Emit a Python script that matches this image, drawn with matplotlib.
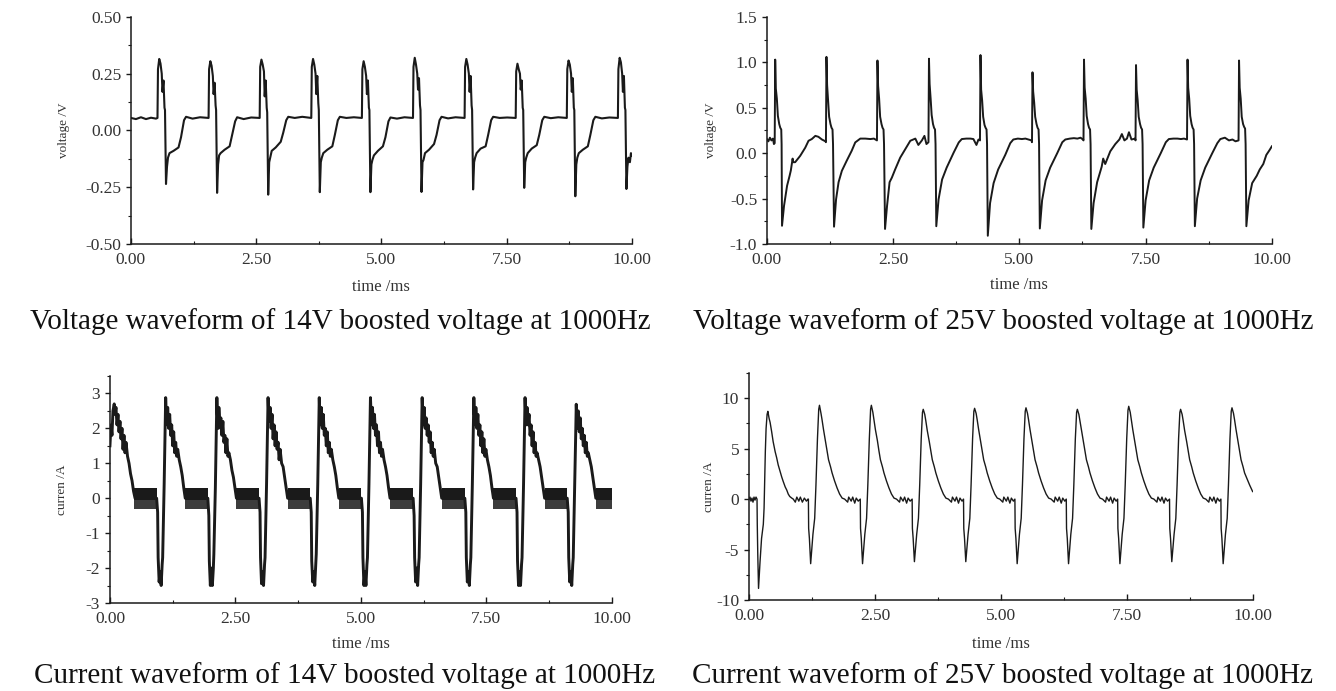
"""Four oscilloscope-style waveforms (14V / 25V boost, 1000Hz)."""

import matplotlib

matplotlib.use("Agg")
import matplotlib.pyplot as plt
from matplotlib.ticker import FormatStrFormatter, MultipleLocator

plt.rcParams["font.family"] = ["Liberation Serif", "DejaVu Serif"]

# ---------------------------------------------------------------------------
# data, one list per cycle
# ---------------------------------------------------------------------------

# voltage, 14V boost
v14_t = [
    [0.0, 0.1, 0.2, 0.3, 0.4, 0.5],
    [0.53, 0.54, 0.565, 0.59, 0.615, 0.63, 0.65, 0.67, 0.68, 0.70, 0.72, 0.74, 0.77, 0.85, 0.95, 1.00, 1.06, 1.10, 1.23, 1.38],
    [1.55, 1.56, 1.585, 1.61, 1.635, 1.65, 1.67, 1.69, 1.70, 1.72, 1.74, 1.76, 1.79, 1.87, 1.97, 2.02, 2.08, 2.12, 2.25, 2.40],
    [2.57, 2.58, 2.605, 2.63, 2.655, 2.67, 2.69, 2.71, 2.72, 2.74, 2.76, 2.78, 2.81, 2.89, 2.99, 3.04, 3.10, 3.14, 3.27, 3.42],
    [3.60, 3.61, 3.635, 3.66, 3.685, 3.70, 3.72, 3.74, 3.75, 3.77, 3.79, 3.81, 3.84, 3.92, 4.02, 4.07, 4.13, 4.17, 4.30, 4.45],
    [4.61, 4.62, 4.645, 4.67, 4.695, 4.71, 4.73, 4.75, 4.76, 4.78, 4.80, 4.82, 4.85, 4.93, 5.03, 5.08, 5.14, 5.18, 5.31, 5.46],
    [5.63, 5.64, 5.665, 5.69, 5.715, 5.73, 5.75, 5.77, 5.78, 5.80, 5.82, 5.84, 5.87, 5.95, 6.05, 6.10, 6.16, 6.20, 6.33, 6.48],
    [6.66, 6.67, 6.695, 6.72, 6.745, 6.76, 6.78, 6.80, 6.81, 6.83, 6.85, 6.87, 6.90, 6.98, 7.08, 7.13, 7.19, 7.23, 7.36, 7.51],
    [7.68, 7.69, 7.715, 7.74, 7.765, 7.78, 7.80, 7.82, 7.83, 7.85, 7.87, 7.89, 7.92, 8.00, 8.10, 8.15, 8.21, 8.25, 8.38, 8.53],
    [8.70, 8.71, 8.735, 8.76, 8.785, 8.80, 8.82, 8.84, 8.85, 8.87, 8.89, 8.91, 8.94, 9.02, 9.12, 9.17, 9.23, 9.27, 9.40, 9.55],
    [9.72, 9.73, 9.755, 9.78, 9.805, 9.82, 9.84, 9.86, 9.87, 9.89, 9.91, 9.93, 9.96, 9.98, 10.0],
]
v14_v = [
    [0.055, 0.05, 0.058, 0.05, 0.056, 0.052],
    [0.055, 0.27, 0.315, 0.295, 0.25, 0.17, 0.22, 0.10, 0.09, -0.236, -0.16, -0.12, -0.10, -0.09, -0.075, -0.03, 0.045, 0.06, 0.052, 0.058],
    [0.055, 0.27, 0.305, 0.285, 0.24, 0.16, 0.21, 0.11, 0.09, -0.275, -0.15, -0.11, -0.10, -0.085, -0.07, -0.02, 0.04, 0.058, 0.05, 0.057],
    [0.055, 0.28, 0.312, 0.29, 0.26, 0.15, 0.22, 0.10, 0.08, -0.283, -0.14, -0.12, -0.09, -0.075, -0.05, -0.01, 0.045, 0.06, 0.055, 0.06],
    [0.055, 0.28, 0.315, 0.29, 0.25, 0.16, 0.24, 0.12, 0.09, -0.272, -0.14, -0.12, -0.10, -0.085, -0.07, -0.02, 0.045, 0.06, 0.055, 0.058],
    [0.055, 0.27, 0.305, 0.28, 0.24, 0.16, 0.22, 0.10, 0.09, -0.272, -0.15, -0.13, -0.11, -0.09, -0.07, -0.03, 0.04, 0.057, 0.052, 0.058],
    [0.055, 0.28, 0.32, 0.29, 0.25, 0.18, 0.23, 0.11, 0.09, -0.271, -0.14, -0.13, -0.10, -0.085, -0.06, -0.02, 0.045, 0.06, 0.053, 0.058],
    [0.055, 0.28, 0.315, 0.29, 0.25, 0.17, 0.24, 0.11, 0.09, -0.26, -0.14, -0.12, -0.10, -0.08, -0.07, -0.02, 0.045, 0.06, 0.055, 0.057],
    [0.055, 0.26, 0.294, 0.27, 0.25, 0.18, 0.22, 0.10, 0.09, -0.253, -0.14, -0.12, -0.10, -0.08, -0.065, -0.02, 0.045, 0.06, 0.054, 0.058],
    [0.055, 0.27, 0.308, 0.29, 0.25, 0.17, 0.23, 0.10, 0.09, -0.29, -0.15, -0.12, -0.10, -0.085, -0.07, -0.02, 0.045, 0.06, 0.053, 0.057],
    [0.055, 0.27, 0.32, 0.30, 0.25, 0.17, 0.24, 0.10, 0.09, -0.258, -0.16, -0.12, -0.14, -0.10, -0.11],
]

# voltage, 25V boost
v25_t = [
    [0.0, 0.03, 0.06, 0.09, 0.12, 0.14, 0.155],
    [0.165, 0.178, 0.198, 0.218, 0.245, 0.265, 0.285, 0.292, 0.30, 0.34, 0.40, 0.45, 0.475, 0.51, 0.52, 0.56, 0.66, 0.76, 0.825, 0.89, 0.96, 1.02, 1.09, 1.16, 1.17],
    [1.18, 1.193, 1.213, 1.233, 1.26, 1.28, 1.30, 1.31, 1.33, 1.37, 1.42, 1.485, 1.58, 1.68, 1.75, 1.85, 1.95, 2.05, 2.12, 2.18],
    [2.19, 2.203, 2.223, 2.243, 2.27, 2.29, 2.31, 2.32, 2.34, 2.38, 2.43, 2.475, 2.54, 2.64, 2.74, 2.84, 2.94, 3.00, 3.07, 3.12, 3.16, 3.20],
    [3.21, 3.223, 3.243, 3.263, 3.29, 3.31, 3.33, 3.34, 3.355, 3.40, 3.47, 3.56, 3.70, 3.80, 3.86, 3.95, 4.03, 4.09, 4.15, 4.19, 4.22],
    [4.23, 4.243, 4.263, 4.283, 4.31, 4.33, 4.35, 4.36, 4.375, 4.42, 4.49, 4.58, 4.72, 4.82, 4.88, 4.97, 5.05, 5.12, 5.18, 5.24, 5.25],
    [5.26, 5.273, 5.293, 5.313, 5.34, 5.36, 5.38, 5.39, 5.405, 5.45, 5.52, 5.61, 5.75, 5.85, 5.91, 6.00, 6.08, 6.15, 6.21, 6.26, 6.27],
    [6.28, 6.293, 6.313, 6.333, 6.36, 6.38, 6.40, 6.41, 6.425, 6.47, 6.54, 6.63, 6.66, 6.70, 6.80, 6.90, 6.98, 7.03, 7.08, 7.13, 7.17, 7.22, 7.29, 7.30],
    [7.31, 7.323, 7.343, 7.363, 7.39, 7.41, 7.43, 7.44, 7.455, 7.50, 7.57, 7.66, 7.80, 7.90, 7.96, 8.05, 8.13, 8.20, 8.26, 8.32],
    [8.33, 8.343, 8.363, 8.383, 8.41, 8.43, 8.45, 8.46, 8.475, 8.52, 8.59, 8.68, 8.82, 8.92, 8.98, 9.07, 9.15, 9.22, 9.28, 9.34],
    [9.35, 9.363, 9.383, 9.403, 9.43, 9.45, 9.47, 9.48, 9.495, 9.54, 9.61, 9.70, 9.76, 9.83, 9.89, 9.95, 10.0],
]
v25_v = [
    [0.155, 0.13, 0.17, 0.14, 0.16, 0.10, 0.11],
    [1.03, 0.71, 0.60, 0.41, 0.32, 0.28, 0.26, 0.10, -0.80, -0.58, -0.36, -0.25, -0.19, -0.06, -0.10, -0.10, -0.03, 0.06, 0.136, 0.155, 0.19, 0.18, 0.15, 0.13, 0.12],
    [1.06, 0.75, 0.58, 0.40, 0.32, 0.28, 0.26, 0.10, -0.81, -0.51, -0.32, -0.195, -0.085, 0.026, 0.118, 0.16, 0.16, 0.155, 0.16, 0.14],
    [1.02, 0.74, 0.60, 0.40, 0.32, 0.28, 0.26, 0.10, -0.835, -0.58, -0.32, -0.27, -0.18, -0.05, 0.044, 0.136, 0.16, 0.09, 0.14, 0.19, 0.10, 0.12],
    [1.04, 0.76, 0.60, 0.42, 0.32, 0.28, 0.26, 0.10, -0.805, -0.51, -0.29, -0.16, 0.007, 0.118, 0.155, 0.16, 0.16, 0.155, 0.09, 0.15, 0.14],
    [1.08, 0.70, 0.58, 0.40, 0.31, 0.28, 0.26, 0.10, -0.91, -0.55, -0.33, -0.18, -0.02, 0.11, 0.15, 0.16, 0.155, 0.16, 0.15, 0.14, 0.12],
    [0.89, 0.68, 0.56, 0.40, 0.32, 0.28, 0.26, 0.10, -0.83, -0.52, -0.30, -0.16, 0.00, 0.12, 0.15, 0.16, 0.165, 0.16, 0.17, 0.15, 0.14],
    [1.03, 0.72, 0.60, 0.41, 0.32, 0.28, 0.26, 0.10, -0.835, -0.55, -0.32, -0.15, -0.06, -0.12, 0.02, 0.10, 0.15, 0.21, 0.14, 0.16, 0.23, 0.15, 0.16, 0.14],
    [0.97, 0.70, 0.58, 0.40, 0.32, 0.28, 0.26, 0.10, -0.82, -0.52, -0.30, -0.16, 0.00, 0.12, 0.155, 0.16, 0.16, 0.155, 0.16, 0.15],
    [1.03, 0.72, 0.60, 0.41, 0.32, 0.28, 0.26, 0.10, -0.805, -0.50, -0.30, -0.16, 0.00, 0.11, 0.155, 0.17, 0.14, 0.15, 0.13, 0.14],
    [1.02, 0.72, 0.60, 0.40, 0.32, 0.29, 0.27, 0.10, -0.805, -0.52, -0.33, -0.25, -0.18, -0.12, -0.02, 0.03, 0.075],
]

# current, 14V boost (main trace)
i14_t = [
    [0.00, 0.02, 0.04, 0.06, 0.085, 0.10, 0.12, 0.14, 0.16, 0.18, 0.20, 0.22, 0.24, 0.26, 0.28, 0.30, 0.32, 0.35, 0.38, 0.41, 0.44, 0.47, 0.50],
    [0.93, 0.95, 0.96, 0.98, 1.00, 1.02, 1.04, 1.05, 1.08, 1.10, 1.11, 1.12, 1.14, 1.15, 1.17, 1.19, 1.21, 1.23, 1.25, 1.27, 1.29, 1.31, 1.33, 1.35, 1.38, 1.41, 1.44, 1.47, 1.50],
    [1.95, 1.97, 1.98, 2.00, 2.02, 2.04, 2.06, 2.07, 2.10, 2.12, 2.13, 2.14, 2.16, 2.17, 2.19, 2.21, 2.23, 2.25, 2.27, 2.29, 2.31, 2.33, 2.35, 2.37, 2.40, 2.43, 2.46, 2.49, 2.52],
    [2.97, 2.99, 3.00, 3.02, 3.04, 3.06, 3.08, 3.09, 3.12, 3.14, 3.15, 3.16, 3.18, 3.19, 3.21, 3.23, 3.25, 3.27, 3.29, 3.31, 3.33, 3.35, 3.37, 3.39, 3.42, 3.45, 3.48, 3.51, 3.54],
    [3.99, 4.01, 4.02, 4.04, 4.06, 4.08, 4.10, 4.11, 4.14, 4.16, 4.17, 4.18, 4.20, 4.21, 4.23, 4.25, 4.27, 4.29, 4.31, 4.33, 4.35, 4.37, 4.39, 4.41, 4.44, 4.47, 4.50, 4.53, 4.56],
    [5.01, 5.03, 5.04, 5.06, 5.08, 5.10, 5.12, 5.13, 5.16, 5.18, 5.19, 5.20, 5.22, 5.23, 5.25, 5.27, 5.29, 5.31, 5.33, 5.35, 5.37, 5.39, 5.41, 5.43, 5.46, 5.49, 5.52, 5.55, 5.58],
    [6.04, 6.06, 6.07, 6.09, 6.11, 6.13, 6.15, 6.16, 6.19, 6.21, 6.22, 6.23, 6.25, 6.26, 6.28, 6.30, 6.32, 6.34, 6.36, 6.38, 6.40, 6.42, 6.44, 6.46, 6.49, 6.52, 6.55, 6.58, 6.61],
    [7.07, 7.09, 7.10, 7.12, 7.14, 7.16, 7.18, 7.19, 7.22, 7.24, 7.25, 7.26, 7.28, 7.29, 7.31, 7.33, 7.35, 7.37, 7.39, 7.41, 7.43, 7.45, 7.47, 7.49, 7.52, 7.55, 7.58, 7.61, 7.64],
    [8.09, 8.11, 8.12, 8.14, 8.16, 8.18, 8.20, 8.21, 8.24, 8.26, 8.27, 8.28, 8.30, 8.31, 8.33, 8.35, 8.37, 8.39, 8.41, 8.43, 8.45, 8.47, 8.49, 8.51, 8.54, 8.57, 8.60, 8.63, 8.66],
    [9.11, 9.13, 9.14, 9.16, 9.18, 9.20, 9.22, 9.23, 9.26, 9.28, 9.29, 9.30, 9.32, 9.33, 9.35, 9.37, 9.39, 9.41, 9.43, 9.45, 9.47, 9.49, 9.51, 9.53, 9.56, 9.59, 9.62, 9.65, 9.68, 10.0],
]
i14_v = [
    [1.5, 2.1, 1.8, 2.5, 2.7, 2.4, 2.6, 2.1, 2.4, 1.9, 2.2, 1.7, 2.0, 1.4, 1.8, 1.3, 1.6, 1.2, 1.0, 0.7, 0.5, 0.2, 0.0],
    [0.0, -0.4, -1.7, -2.4, -2.1, -2.5, -1.9, -1.7, 0.4, 2.0, 2.88, 2.5, 2.1, 2.6, 2.0, 2.4, 1.8, 2.1, 1.5, 1.9, 1.3, 1.6, 1.2, 1.4, 1.1, 0.9, 0.65, 0.3, 0.0],
    [0.0, -0.5, -1.8, -2.5, -2.0, -2.5, -2.0, -1.6, 0.3, 2.1, 2.88, 2.4, 2.0, 2.6, 2.1, 2.3, 1.8, 2.2, 1.6, 1.8, 1.3, 1.7, 1.2, 1.3, 1.1, 0.8, 0.6, 0.3, 0.0],
    [0.0, -0.4, -1.7, -2.45, -2.1, -2.5, -1.9, -1.7, 0.4, 2.0, 2.88, 2.5, 2.2, 2.6, 2.0, 2.4, 1.7, 2.1, 1.5, 1.9, 1.4, 1.6, 1.1, 1.4, 1.0, 0.9, 0.6, 0.3, 0.0],
    [0.0, -0.4, -1.8, -2.4, -2.1, -2.5, -1.9, -1.6, 0.4, 2.0, 2.88, 2.4, 2.1, 2.6, 2.0, 2.4, 1.8, 2.0, 1.5, 1.9, 1.3, 1.6, 1.2, 1.4, 1.1, 0.9, 0.65, 0.3, 0.0],
    [0.0, -0.4, -1.7, -2.5, -2.1, -2.5, -1.9, -1.7, 0.4, 2.0, 2.88, 2.5, 2.1, 2.6, 2.0, 2.4, 1.8, 2.1, 1.5, 1.9, 1.3, 1.6, 1.2, 1.4, 1.1, 0.9, 0.65, 0.3, 0.0],
    [0.0, -0.5, -1.7, -2.4, -2.0, -2.5, -1.9, -1.7, 0.4, 2.1, 2.88, 2.5, 2.1, 2.6, 2.0, 2.3, 1.8, 2.1, 1.6, 1.9, 1.3, 1.6, 1.2, 1.4, 1.0, 0.9, 0.6, 0.3, 0.0],
    [0.0, -0.4, -1.7, -2.4, -2.1, -2.5, -1.9, -1.7, 0.4, 2.0, 2.88, 2.4, 2.1, 2.6, 2.0, 2.4, 1.8, 2.1, 1.5, 1.9, 1.3, 1.7, 1.2, 1.4, 1.1, 0.9, 0.65, 0.3, 0.0],
    [0.0, -0.4, -1.8, -2.5, -2.1, -2.5, -1.9, -1.7, 0.4, 2.0, 2.88, 2.5, 2.1, 2.6, 2.1, 2.4, 1.8, 2.1, 1.5, 1.9, 1.3, 1.6, 1.2, 1.3, 1.1, 0.9, 0.6, 0.3, 0.0],
    [0.0, -0.4, -1.7, -2.4, -2.1, -2.5, -1.9, -1.7, 0.4, 1.9, 2.69, 2.3, 2.0, 2.5, 1.9, 2.3, 1.7, 2.0, 1.5, 1.8, 1.3, 1.6, 1.2, 1.3, 1.1, 0.9, 0.6, 0.3, 0.0, 0.0],
]
# current, 14V boost: dense noise band around zero between the pulses
i14_band_start = [0.485, 1.50, 2.52, 3.54, 4.56, 5.58, 6.61, 7.64, 8.66, 9.68]
i14_band_end = [0.93, 1.95, 2.97, 3.99, 5.01, 6.04, 7.07, 8.09, 9.11, 10.0]
i14_band_low = -0.3
i14_band_mid = -0.05
i14_band_high = 0.3

# current, 25V boost
i25_t = [
    [0.0, 0.02, 0.04, 0.06, 0.08, 0.10, 0.12, 0.14, 0.16, 0.165, 0.175, 0.19, 0.22, 0.25, 0.285, 0.30, 0.325, 0.34, 0.36, 0.375, 0.40, 0.42,
     0.45, 0.48, 0.52, 0.55, 0.58, 0.62, 0.65, 0.68, 0.72, 0.75, 0.78, 0.81, 0.85, 0.88, 0.92, 0.95, 0.99, 1.02, 1.06, 1.10, 1.14, 1.17],
    [1.18, 1.185, 1.20, 1.225, 1.27, 1.305, 1.33, 1.36, 1.385, 1.40, 1.43, 1.45, 1.48, 1.52, 1.55, 1.58, 1.62, 1.65, 1.70, 1.75, 1.80, 1.85, 1.90, 1.96, 1.98, 2.03, 2.06, 2.10, 2.13, 2.17],
    [2.21, 2.215, 2.23, 2.255, 2.30, 2.335, 2.36, 2.39, 2.415, 2.43, 2.46, 2.48, 2.51, 2.55, 2.58, 2.61, 2.65, 2.68, 2.73, 2.78, 2.83, 2.88, 2.93, 2.99, 3.01, 3.06, 3.09, 3.13, 3.16, 3.20],
    [3.24, 3.245, 3.26, 3.285, 3.33, 3.365, 3.39, 3.42, 3.445, 3.46, 3.49, 3.51, 3.54, 3.58, 3.61, 3.64, 3.68, 3.71, 3.76, 3.81, 3.86, 3.91, 3.96, 4.02, 4.04, 4.09, 4.12, 4.16, 4.19, 4.23],
    [4.26, 4.265, 4.28, 4.305, 4.35, 4.385, 4.41, 4.44, 4.465, 4.48, 4.51, 4.53, 4.56, 4.60, 4.63, 4.66, 4.70, 4.73, 4.78, 4.83, 4.88, 4.93, 4.98, 5.04, 5.06, 5.11, 5.14, 5.18, 5.21, 5.25],
    [5.28, 5.285, 5.30, 5.325, 5.37, 5.405, 5.43, 5.46, 5.485, 5.50, 5.53, 5.55, 5.58, 5.62, 5.65, 5.68, 5.72, 5.75, 5.80, 5.85, 5.90, 5.95, 6.00, 6.06, 6.08, 6.13, 6.16, 6.20, 6.23, 6.27],
    [6.30, 6.305, 6.32, 6.345, 6.39, 6.425, 6.45, 6.48, 6.505, 6.52, 6.55, 6.57, 6.60, 6.64, 6.67, 6.70, 6.74, 6.77, 6.82, 6.87, 6.92, 6.97, 7.02, 7.08, 7.10, 7.15, 7.18, 7.22, 7.25, 7.29],
    [7.32, 7.325, 7.34, 7.365, 7.41, 7.445, 7.47, 7.50, 7.525, 7.54, 7.57, 7.59, 7.62, 7.66, 7.69, 7.72, 7.76, 7.79, 7.84, 7.89, 7.94, 7.99, 8.04, 8.10, 8.12, 8.17, 8.20, 8.24, 8.27, 8.31],
    [8.35, 8.355, 8.37, 8.395, 8.44, 8.475, 8.50, 8.53, 8.555, 8.57, 8.60, 8.62, 8.65, 8.69, 8.72, 8.75, 8.79, 8.82, 8.87, 8.92, 8.97, 9.02, 9.07, 9.13, 9.15, 9.20, 9.23, 9.27, 9.30, 9.34],
    [9.37, 9.375, 9.39, 9.415, 9.46, 9.495, 9.52, 9.55, 9.575, 9.59, 9.62, 9.64, 9.67, 9.71, 9.74, 9.77, 9.81, 9.84, 9.89, 9.94, 10.0],
]
i25_v = [
    [0.0, 0.2, -0.2, 0.1, -0.3, 0.2, -0.1, 0.2, 0.0, -2.5, -5.5, -8.85, -6.2, -3.9, -2.5, -0.9, 4.7, 7.0, 8.4, 8.7, 8.0, 7.6,
     6.7, 5.7, 4.7, 4.1, 3.4, 2.7, 2.2, 1.75, 1.2, 0.9, 0.5, 0.26, 0.1, 0.0, -0.3, 0.2, -0.2, 0.2, -0.3, 0.1, -0.2, 0.0],
    [0.0, -2.9, -3.9, -6.4, -3.5, -1.9, 1.4, 6.0, 8.9, 9.3, 8.5, 7.9, 6.9, 5.7, 4.8, 3.9, 3.2, 2.6, 1.8, 1.1, 0.5, 0.1, 0.0, -0.3, 0.2, -0.2, 0.2, -0.4, 0.1, -0.2],
    [0.0, -2.9, -3.9, -6.4, -3.5, -1.9, 1.4, 6.0, 8.9, 9.3, 8.6, 7.9, 6.9, 5.8, 4.8, 3.9, 3.2, 2.6, 1.8, 1.1, 0.5, 0.1, 0.0, -0.3, 0.2, -0.2, 0.2, -0.4, 0.1, -0.2],
    [0.0, -2.9, -3.9, -6.2, -3.5, -1.9, 1.4, 6.0, 8.6, 8.9, 8.4, 7.8, 6.8, 5.7, 4.8, 3.9, 3.2, 2.6, 1.8, 1.1, 0.5, 0.1, 0.0, -0.3, 0.2, -0.2, 0.2, -0.4, 0.1, -0.2],
    [0.0, -2.9, -3.9, -6.2, -3.5, -1.9, 1.4, 6.0, 8.7, 9.0, 8.5, 7.9, 6.9, 5.7, 4.8, 3.9, 3.2, 2.6, 1.8, 1.1, 0.5, 0.1, 0.0, -0.3, 0.2, -0.2, 0.2, -0.4, 0.1, -0.2],
    [0.0, -2.9, -3.9, -6.4, -3.5, -1.9, 1.4, 6.0, 8.7, 9.05, 8.5, 7.9, 6.9, 5.7, 4.8, 3.9, 3.2, 2.6, 1.8, 1.1, 0.5, 0.1, 0.0, -0.3, 0.2, -0.2, 0.2, -0.4, 0.1, -0.2],
    [0.0, -2.9, -3.9, -6.4, -3.5, -1.9, 1.4, 6.0, 8.6, 8.9, 8.4, 7.8, 6.9, 5.7, 4.8, 3.9, 3.2, 2.6, 1.8, 1.1, 0.5, 0.1, 0.0, -0.3, 0.2, -0.2, 0.2, -0.4, 0.1, -0.2],
    [0.0, -2.9, -3.9, -6.4, -3.5, -1.9, 1.4, 6.0, 8.8, 9.2, 8.6, 7.9, 6.9, 5.7, 4.8, 3.9, 3.2, 2.6, 1.8, 1.1, 0.5, 0.1, 0.0, -0.3, 0.2, -0.2, 0.2, -0.4, 0.1, -0.2],
    [0.0, -2.9, -3.9, -6.2, -3.5, -1.9, 1.4, 6.0, 8.6, 8.9, 8.4, 7.8, 6.8, 5.7, 4.8, 3.9, 3.2, 2.6, 1.8, 1.1, 0.5, 0.1, 0.0, -0.3, 0.2, -0.2, 0.2, -0.4, 0.1, -0.2],
    [0.0, -2.9, -3.9, -6.4, -3.5, -1.9, 1.4, 6.0, 8.7, 9.05, 8.5, 7.9, 6.9, 5.7, 4.8, 3.9, 3.2, 2.6, 2.0, 1.4, 0.75],
]

captions = [
    "Voltage waveform of 14V boosted voltage at 1000Hz",
    "Voltage waveform of 25V boosted voltage at 1000Hz",
    "Current waveform of 14V boosted voltage at 1000Hz",
    "Current waveform of 25V boosted voltage at 1000Hz",
]

INK = "#1a1a1a"
LABEL = "#333333"


def flatten(cycles):
    return [x for cyc in cycles for x in cyc]


def style_axes(ax, ylim, ymajor, yminor, yfmt, ylabel, ylab_x, xlab_y):
    ax.set_xlim(0, 10)
    ax.set_ylim(*ylim)
    ax.xaxis.set_major_locator(MultipleLocator(2.5))
    ax.xaxis.set_minor_locator(MultipleLocator(1.25))
    ax.xaxis.set_major_formatter(FormatStrFormatter("%.2f"))
    ax.yaxis.set_major_locator(MultipleLocator(ymajor))
    ax.yaxis.set_minor_locator(MultipleLocator(yminor))
    ax.yaxis.set_major_formatter(FormatStrFormatter(yfmt))

    for side in ("top", "right"):
        ax.spines[side].set_visible(False)
    for side in ("left", "bottom"):
        ax.spines[side].set_linewidth(1.1)
        ax.spines[side].set_color(INK)

    ax.tick_params(axis="x", which="major", direction="in", length=4, width=1,
                   pad=6, labelsize=12.5, labelcolor=LABEL, color=INK)
    ax.tick_params(axis="x", which="minor", direction="in", length=2.5, width=0.8, color=INK)
    ax.tick_params(axis="y", which="major", direction="out", length=3.5, width=1,
                   pad=3.5, labelsize=12.5, labelcolor=LABEL, color=INK)
    ax.tick_params(axis="y", which="minor", direction="out", length=2, width=0.8, color=INK)

    ax.set_xlabel("time /ms", fontsize=12, color=LABEL, va="center")
    ax.xaxis.set_label_coords(0.5, xlab_y)
    ax.set_ylabel(ylabel, fontsize=9.5, color=LABEL, va="center")
    ax.yaxis.set_label_coords(ylab_x, 0.5)


fig = plt.figure(figsize=(13.36, 6.91), dpi=100)

ax1 = fig.add_axes([0.098, 0.647, 0.375, 0.3285])
ax2 = fig.add_axes([0.574, 0.647, 0.378, 0.3285])
ax3 = fig.add_axes([0.0823, 0.1274, 0.3757, 0.3285])
ax4 = fig.add_axes([0.5606, 0.1317, 0.377, 0.3285])

ax1.plot(flatten(v14_t), flatten(v14_v), color=INK, lw=1.5)
style_axes(ax1, (-0.5, 0.5), 0.25, 0.125, "%.2f", "voltage /V", -0.134, -0.19)

ax2.plot(flatten(v25_t), flatten(v25_v), color=INK, lw=1.4)
style_axes(ax2, (-1.0, 1.5), 0.5, 0.25, "%.1f", "voltage /V", -0.111, -0.18)

# noise band: solid on top, slightly sparser spikes underneath
for t0, t1 in zip(i14_band_start, i14_band_end):
    ax3.fill_between([t0, t1], i14_band_mid, i14_band_high, color=INK, lw=0)
    ax3.fill_between([t0, t1], i14_band_low, i14_band_mid, color=INK, alpha=0.85, lw=0)
ax3.plot(flatten(i14_t), flatten(i14_v), color=INK, lw=2.1)
style_axes(ax3, (-3, 3.5), 1, 0.5, "%d", "curren /A", -0.096, -0.18)

ax4.plot(flatten(i25_t), flatten(i25_v), color=INK, lw=1.0)
style_axes(ax4, (-10, 12.5), 5, 2.5, "%d", "curren /A", -0.079, -0.194)

fig.text(0.2545, 0.524, captions[0], fontsize=21, ha="center", va="baseline", color="#111111")
fig.text(0.7507, 0.524, captions[1], fontsize=21, ha="center", va="baseline", color="#111111")
fig.text(0.258, 0.0116, captions[2], fontsize=21, ha="center", va="baseline", color="#111111")
fig.text(0.7507, 0.0116, captions[3], fontsize=21, ha="center", va="baseline", color="#111111")

fig.savefig("out.png", dpi=100)
plt.close(fig)
